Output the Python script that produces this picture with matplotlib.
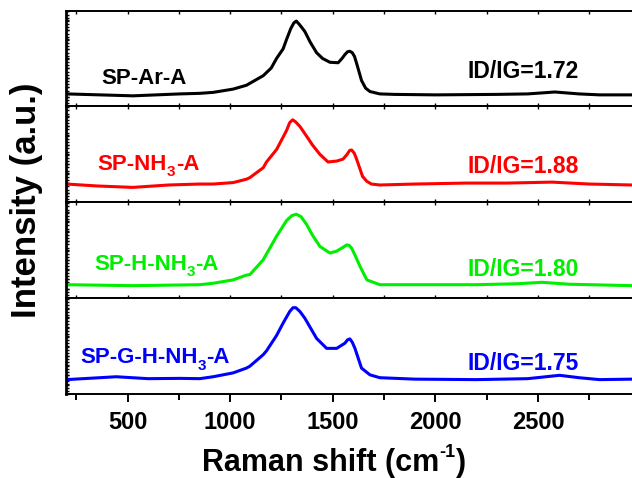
import matplotlib
matplotlib.use("Agg")
import matplotlib.pyplot as plt
from matplotlib.ticker import MultipleLocator
from matplotlib.transforms import offset_copy

plt.rcParams['font.family'] = ['Liberation Sans', 'DejaVu Sans']
plt.rcParams['font.weight'] = 'bold'

# ---- data (normalised intensity within each stacked panel) ----
x_ar = [203, 526, 755, 852, 917, 1014, 1079, 1161, 1200, 1226, 1258, 1275, 1295, 1310, 1322, 1335, 1350, 1364,
        1390, 1421, 1450, 1486, 1526, 1545, 1559, 1572, 1583, 1595, 1606, 1620, 1640, 1660, 1681, 1729, 1800,
        2000, 2300, 2450, 2582, 2700, 2800, 2958]
y_ar = [0.13, 0.11, 0.13, 0.136, 0.146, 0.18, 0.22, 0.32, 0.40, 0.50, 0.60, 0.70, 0.81, 0.87, 0.89, 0.86, 0.82,
        0.78, 0.67, 0.56, 0.50, 0.46, 0.455, 0.50, 0.54, 0.57, 0.575, 0.56, 0.52, 0.42, 0.27, 0.19, 0.155, 0.13,
        0.125, 0.12, 0.125, 0.13, 0.15, 0.13, 0.12, 0.12]

x_nh3 = [203, 350, 526, 700, 852, 917, 1014, 1079, 1096, 1161, 1177, 1226, 1258, 1275, 1290, 1304, 1318, 1340,
         1372, 1400, 1437, 1477, 1520, 1550, 1570, 1582, 1592, 1605, 1616, 1645, 1665, 1688, 1729, 1900, 2151,
         2350, 2568, 2750, 2958]
y_nh3 = [0.19, 0.17, 0.155, 0.18, 0.19, 0.19, 0.205, 0.24, 0.257, 0.36, 0.42, 0.55, 0.68, 0.75, 0.83, 0.86, 0.84,
         0.79, 0.69, 0.60, 0.50, 0.42, 0.43, 0.45, 0.50, 0.54, 0.545, 0.51, 0.45, 0.27, 0.22, 0.19, 0.18, 0.19,
         0.20, 0.20, 0.21, 0.19, 0.18]

x_h = [203, 526, 755, 852, 917, 1014, 1079, 1096, 1161, 1226, 1275, 1300, 1322, 1345, 1372, 1400, 1437, 1486,
       1519, 1550, 1568, 1580, 1592, 1610, 1633, 1666, 1729, 1900, 2200, 2400, 2519, 2650, 2958]
y_h = [0.14, 0.13, 0.137, 0.14, 0.155, 0.19, 0.24, 0.245, 0.40, 0.645, 0.81, 0.86, 0.875, 0.85, 0.77, 0.66, 0.54,
       0.47, 0.49, 0.53, 0.555, 0.55, 0.52, 0.44, 0.33, 0.19, 0.14, 0.14, 0.14, 0.15, 0.165, 0.145, 0.13]

x_g = [203, 445, 600, 755, 852, 917, 1014, 1079, 1096, 1161, 1177, 1226, 1258, 1290, 1306, 1320, 1340, 1364, 1421,
       1470, 1519, 1559, 1572, 1583, 1595, 1608, 1640, 1681, 1729, 1900, 2200, 2450, 2605, 2700, 2800, 2958]
y_g = [0.15, 0.18, 0.16, 0.163, 0.16, 0.18, 0.22, 0.27, 0.29, 0.41, 0.45, 0.61, 0.74, 0.86, 0.90, 0.90, 0.86, 0.79,
       0.58, 0.476, 0.476, 0.53, 0.565, 0.575, 0.54, 0.476, 0.27, 0.20, 0.17, 0.155, 0.15, 0.16, 0.195, 0.17,
       0.15, 0.155]

# sample names as (main, subscript, tail) pieces
samples = [("SP-Ar-A", "", ""), ("SP-NH", "3", "-A"), ("SP-H-NH", "3", "-A"), ("SP-G-H-NH", "3", "-A")]
ratios = ["ID/IG=1.72", "ID/IG=1.88", "ID/IG=1.80", "ID/IG=1.75"]
colors = ["black", "#FF0000", "#00EE00", "#0000FF"]
xs = [x_ar, x_nh3, x_h, x_g]
ys = [y_ar, y_nh3, y_h, y_g]

xticks = [500, 1000, 1500, 2000, 2500]

# ---- layout ----
W, H = 632, 478
fig = plt.figure(figsize=(W / 100, H / 100), dpi=100)
left = 66 / W
right = 1.0
top_px, bot_px = 10.5, 394
ph = (bot_px - top_px) / 4 / H

label_x = [370, 355, 336, 268]
label_y = [0.23, 0.34, 0.295, 0.32]
ratio_y = [0.30, 0.31, 0.23, 0.25]

fig.canvas.draw()
renderer = fig.canvas.get_renderer()


def pieces(ax, x, y, parts, color, transform):
    """parts: list of (text, fontsize, dy_points). Drawn one after another."""
    dx = 0.0
    for s, fs, dy in parts:
        if not s:
            continue
        tr = offset_copy(transform, fig=fig, x=dx, y=dy, units='points')
        t = ax.text(x, y, s, color=color, fontsize=fs, fontweight='bold',
                    transform=tr, ha='left', va='baseline')
        ext = t.get_window_extent(renderer=renderer)
        dx += ext.width * 72 / fig.dpi


axes = []
for i in range(4):
    b = 1 - bot_px / H + (3 - i) * ph
    ax = fig.add_axes([left, b, right - left, ph])
    ax.plot(xs[i], ys[i], color=colors[i], lw=2.2)
    ax.set_xlim(200, 2958)
    ax.set_ylim(0, 1)
    ax.spines['right'].set_visible(False)
    for s in ['left', 'bottom', 'top']:
        ax.spines[s].set_linewidth(1.4)
    ax.spines['left'].set_linewidth(2.0)
    ax.xaxis.set_major_locator(MultipleLocator(500))
    ax.xaxis.set_minor_locator(MultipleLocator(250))
    ax.yaxis.set_major_locator(MultipleLocator(0.1))
    ax.yaxis.set_minor_locator(MultipleLocator(0.033))
    ax.tick_params(axis='y', which='both', direction='in', length=2.0, width=1.0, labelleft=False, left=True)
    ax.set_xticks(xticks)
    if i < 3:
        ax.tick_params(axis='x', which='both', direction='in', top=True, bottom=True,
                       labelbottom=False, length=2.5, width=1.0)
    else:
        ax.tick_params(axis='x', which='major', direction='out', length=6, width=1.4,
                       labelsize=17, pad=6)
        ax.tick_params(axis='x', which='minor', direction='out', length=4, width=1.4)
        ax.tick_params(axis='x', which='both', top=False)
        for lab in ax.get_xticklabels():
            lab.set_fontweight('bold')
    if i == 0:
        ax.tick_params(axis='x', which='both', top=True, direction='in')
    tr = ax.get_xaxis_transform()
    main, sub, tail = samples[i]
    pieces(ax, label_x[i], label_y[i],
           [(main, 16, 0), (sub, 11, -4.5), (tail, 16, 0)], colors[i], tr)
    ax.text(2154, ratio_y[i], ratios[i], color=colors[i], fontsize=16.5,
            fontweight='bold', transform=tr, ha='left', va='baseline')
    axes.append(ax)

fig.text(27 / W, 1 - 200 / H, "Intensity (a.u.)", rotation=90, fontsize=25,
         fontweight='bold', ha='center', va='center')

# x label drawn in pieces for the small raised "-1"
xl_parts = [("Raman shift (cm", 22, 0), ("-1", 13, 10), (")", 22, 0)]
fig.canvas.draw()
widths = []
for s, fs, dy in xl_parts:
    t = fig.text(0, 0, s, fontsize=fs, fontweight='bold')
    widths.append(t.get_window_extent(renderer=renderer).width)
    t.remove()
x0 = 334 - sum(widths) / 2
base_y = H - 471
cur = x0
for (s, fs, dy), w in zip(xl_parts, widths):
    fig.text(cur / W, (base_y + dy * fig.dpi / 72) / H, s, fontsize=fs, fontweight='bold',
             ha='left', va='baseline')
    cur += w

fig.savefig("out.png", dpi=100)
